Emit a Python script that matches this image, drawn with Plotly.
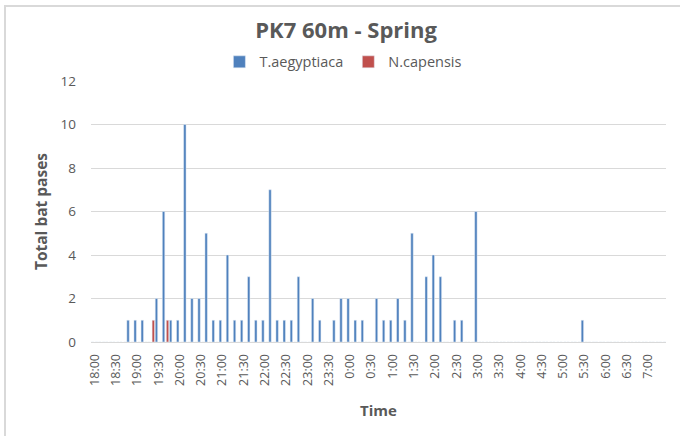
import plotly.graph_objects as go

# 10-minute bins from 18:00 to 7:20
times = []
for h in list(range(18, 24)) + list(range(0, 8)):
    for m in range(0, 60, 10):
        times.append("%d:%02d" % (h, m))
times = times[:times.index("7:20") + 1]

t_aegyptiaca = [0, 0, 0, 0, 0, 1, 1, 1, 0, 2,    # 18:00-19:30
                6, 1, 1, 10, 2, 2, 5, 1, 1, 4,   # 19:40-21:10
                1, 1, 3, 1, 1, 7, 1, 1, 1, 3,    # 21:20-22:50
                0, 2, 1, 0, 1, 2, 2, 1, 1, 0,    # 23:00-0:30
                2, 1, 1, 2, 1, 5, 0, 3, 4, 3,    # 0:40-2:10
                0, 1, 1, 0, 6, 0, 0, 0, 0, 0,    # 2:20-3:50
                0, 0, 0, 0, 0, 0, 0, 0, 0, 1,    # 4:00-5:30
                0, 0, 0, 0, 0, 0, 0, 0, 0, 0, 0]  # 5:40-7:20

n_capensis = [0] * len(times)
n_capensis[times.index("19:20")] = 1
n_capensis[times.index("19:40")] = 1

tick_labels = times[::3]

grey = "#595959"
font = "Open Sans"

fig = go.Figure()
fig.add_trace(go.Bar(x=times, y=t_aegyptiaca, name="T.aegyptiaca",
                     marker_color="#4F81BD", width=0.34, offset=-0.45))
fig.add_trace(go.Bar(x=times, y=n_capensis, name="N.capensis",
                     marker_color="#C0504D", width=0.34, offset=0.11))

fig.update_layout(
    width=680, height=436,
    margin={'l': 91, 'r': 14, 't': 81, 'b': 94},
    paper_bgcolor="white", plot_bgcolor="white",
    barmode="overlay",
    font=dict(family=font, color=grey, size=13),
    title=dict(text="<b>PK7 60m - Spring</b>", x=0.509, xref="container",
               xanchor="center", y=0.931, yanchor="middle",
               font=dict(size=22, color=grey, family=font)),
    legend=dict(orientation="h", xref="container", x=0.505, xanchor="center",
                yref="container", y=0.858, yanchor="middle",
                font=dict(size=14.5, color=grey), itemwidth=30,
                traceorder="normal"),
    showlegend=True,
)

fig.update_xaxes(
    type="category", tickmode="array", tickvals=tick_labels, ticktext=tick_labels,
    tickangle=-90, showgrid=False, showline=True, linecolor="#D9D9D9", linewidth=1,
    ticks="", ticklabelstandoff=6, tickfont=dict(size=12.5, color=grey),
    title=dict(text="<b>Time</b>", font=dict(size=15, color=grey), standoff=20),
    automargin=False,
)
fig.update_yaxes(
    range=[0, 12], dtick=2, showgrid=True, gridcolor="#D9D9D9", gridwidth=1,
    zeroline=False, showline=False, ticks="", ticklabelstandoff=14,
    tickfont=dict(size=13.5, color=grey),
    title=dict(text="<b>Total bat pases</b>", font=dict(size=15.5, color=grey), standoff=9),
    automargin=False,
)

# outer chart frame (only top and left edges fall inside the picture)
fig.add_shape(type="rect", xref="paper", yref="paper",
              x0=-86 / 575, x1=1.3, y0=-1, y1=(342 - 6) / 261,
              line=dict(color="#D9D9D9", width=2), layer="below")

fig.write_html("out.html", config={'displayModeBar': False},
               post_script="document.body.style.margin='0';")
